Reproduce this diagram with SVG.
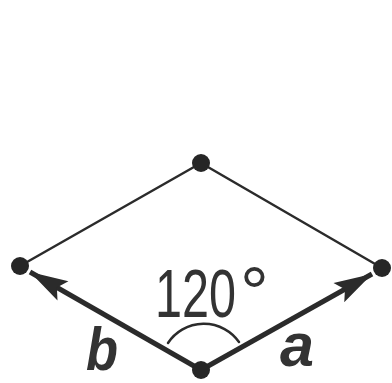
<svg xmlns="http://www.w3.org/2000/svg" width="392" height="383" viewBox="0 0 392 383">
<defs>
<style>
.edge{stroke:#2b2b2b;stroke-width:2.5;fill:none;stroke-linecap:round}
.vec{stroke:#2b2b2b;stroke-width:5;fill:none}
.dot{fill:#262626}
.lbl{font-family:"Liberation Sans",Arial,sans-serif;fill:#333}
</style>
<marker id="ah" markerUnits="userSpaceOnUse" markerWidth="50" markerHeight="30" viewBox="-40 -15 45 30" refX="0" refY="0" orient="auto">
<path d="M0,0 L-38,-11 L-31,0 L-38,11 Z" fill="#2b2b2b"/>
</marker>
</defs>
<rect width="392" height="383" fill="#fff"/>
<g id="connectors">
<line class="edge" x1="20" y1="266" x2="201" y2="163"/>
<line class="edge" x1="201" y1="163" x2="382" y2="268"/>
<line class="vec" x1="201" y1="370" x2="30" y2="272" marker-end="url(#ah)"/>
<line class="vec" x1="201" y1="370" x2="372" y2="274" marker-end="url(#ah)"/>
<path class="edge" d="M168,343 A43,43 0 0 1 239,342"/>
</g>
<g id="node-top"><circle class="dot" cx="201" cy="163" r="9"/></g>
<g id="node-left"><circle class="dot" cx="20" cy="266" r="9"/></g>
<g id="node-right"><circle class="dot" cx="382" cy="268" r="9"/></g>
<g id="node-bottom"><circle class="dot" cx="201" cy="370" r="9"/></g>
<g id="labels">
<text class="lbl" x="155" y="317" font-size="68"><tspan textLength="81" lengthAdjust="spacingAndGlyphs">120</tspan><tspan x="240" font-size="72">°</tspan></text>
<text class="lbl" x="86" y="370" font-size="62" font-weight="bold" font-style="italic" textLength="32" lengthAdjust="spacingAndGlyphs">b</text>
<text class="lbl" x="280" y="366" font-size="62" font-weight="bold" font-style="italic" textLength="34" lengthAdjust="spacingAndGlyphs">a</text>
</g>
</svg>
